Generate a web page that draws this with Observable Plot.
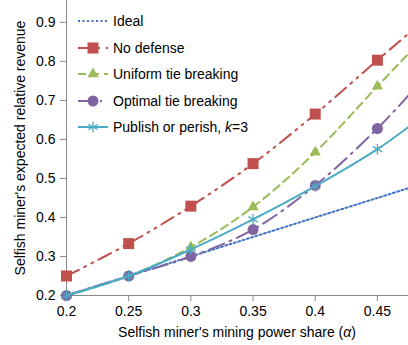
<!DOCTYPE html>
<html>
<head>
<meta charset="utf-8">
<script src="https://cdn.jsdelivr.net/npm/d3@7"></script>
<script src="https://cdn.jsdelivr.net/npm/@observablehq/plot@0.6"></script>
<style>
  body { margin: 0; background: #fff; }
  #wrap { position: relative; width: 408px; font-family: "Liberation Sans", Arial, sans-serif; color: #000; }
  #xlabel { width: 342px; padding-left: 66px; text-align: center; font-size: 14px; line-height: 20px; height: 23px; }
  #legend { position: absolute; left: 77px; top: 8px; font-size: 14px; }
  .row { display: flex; align-items: center; height: 26.5px; }
  .row svg { margin-right: 2px; }
</style>
</head>
<body>
<div id="wrap"></div>
<script>
// ---- data ----
const alpha = [0.2, 0.25, 0.3, 0.35, 0.4, 0.45, 0.475]; // last value: where lines leave the plot
const ideal      = [0.2, 0.25, 0.3, 0.35, 0.4, 0.45, 0.475];
const noDefense  = [0.25, 0.333, 0.429, 0.538, 0.665, 0.803, 0.871];
const uniformTie = [0.2, 0.25, 0.324, 0.427, 0.567, 0.736, 0.82];
const optimalTie = [0.2, 0.25, 0.30, 0.369, 0.482, 0.628, 0.713];
const publish    = [0.2, 0.25, 0.318, 0.395, 0.48, 0.575, 0.632];
const markerMaxAlpha = 0.45;

const seriesNames = ["Ideal", "No defense", "Uniform tie breaking", "Optimal tie breaking", "Publish or perish, k=3"];
const seriesValues = [ideal, noDefense, uniformTie, optimalTie, publish];
const seriesColors = ["#4472C4", "#C0504D", "#9BBB59", "#8064A2", "#4BACC6"];
const seriesDash = ["2,2.5", "14,6,2,6,2,6", "8,5", "16,6,2,6", null];
const seriesSymbol = [null, "square", "triangle", "circle", "asterisk"];
const seriesR = [0, 6.2, 4.2, 5.5, 5.2];

const xTicks = [0.2, 0.25, 0.3, 0.35, 0.4, 0.45];
const yTicks = [0.2, 0.3, 0.4, 0.5, 0.6, 0.7, 0.8, 0.9];
const xTitle = "Selfish miner's mining power share (";
const yTitle = "Selfish miner's expected relative revenue";

// ---- build table ----
const rows = [];
seriesNames.forEach((s, i) => seriesValues[i].forEach((v, j) => rows.push({series: s, idx: i, x: alpha[j], y: v})));

const axisCol = "#898989";
const marks = [
  Plot.ruleY([0.2], {stroke: axisCol, strokeWidth: 1}),
  Plot.ruleX([0.2], {stroke: axisCol, strokeWidth: 1}),
  Plot.axisX({ticks: xTicks, tickFormat: d => String(+d.toFixed(2)), tickSize: 6, tickPadding: 5, stroke: axisCol, fill: "#000", label: null, fontSize: 14}),
  Plot.axisY({ticks: yTicks, tickFormat: d => String(+d.toFixed(1)), tickSize: 6, tickPadding: 5, stroke: axisCol, fill: "#000", label: null, fontSize: 14}),
  Plot.text([yTitle], {frameAnchor: "left", textAnchor: "middle", rotate: -90, dx: -46, fontSize: 14, fill: "#000"})
];
seriesNames.forEach((s, i) => {
  const d = rows.filter(r => r.idx === i);
  marks.push(Plot.line(d, {x: "x", y: "y", stroke: seriesColors[i], strokeWidth: 2, strokeDasharray: seriesDash[i] || undefined, curve: "catmull-rom"}));
  if (seriesSymbol[i]) {
    const pts = d.filter(r => r.x <= markerMaxAlpha + 1e-9);
    if (seriesSymbol[i] === "asterisk") {
      marks.push(Plot.dot(pts, {x: "x", y: "y", symbol: "asterisk", r: seriesR[i], stroke: seriesColors[i], strokeWidth: 1.3, fill: "none"}));
    } else {
      marks.push(Plot.dot(pts, {x: "x", y: "y", symbol: seriesSymbol[i], r: seriesR[i], fill: seriesColors[i], stroke: "none"}));
    }
  }
});

const chart = Plot.plot({
  width: 408, height: 322,
  marginLeft: 66, marginRight: 0, marginTop: 0, marginBottom: 27,
  style: {fontFamily: '"Liberation Sans", Arial, sans-serif', fontSize: "14px", color: "#000", background: "#fff", overflow: "visible"},
  x: {domain: [0.2, 0.475]},
  y: {domain: [0.2, 0.956]},
  marks
});

const wrap = document.getElementById("wrap");
wrap.appendChild(chart);

// x title with italic alpha
const xl = document.createElement("div");
xl.id = "xlabel";
xl.innerHTML = xTitle + "<i>α</i>)";
wrap.appendChild(xl);

// legend overlay
const lg = document.createElement("div");
lg.id = "legend";
seriesNames.forEach((s, i) => {
  const row = document.createElement("div");
  row.className = "row";
  const svg = d3.create("svg").attr("width", 34).attr("height", 14);
  svg.append("line").attr("x1", 1).attr("x2", 31).attr("y1", 7).attr("y2", 7)
    .attr("stroke", seriesColors[i]).attr("stroke-width", 2)
    .attr("stroke-dasharray", seriesDash[i] || null);
  if (seriesSymbol[i]) {
    const typ = {square: d3.symbolSquare, triangle: d3.symbolTriangle, circle: d3.symbolCircle, asterisk: d3.symbolAsterisk}[seriesSymbol[i]];
    const p = svg.append("path").attr("transform", "translate(16,7)")
      .attr("d", d3.symbol(typ, Math.PI * seriesR[i] * seriesR[i])());
    if (seriesSymbol[i] === "asterisk") p.attr("fill", "none").attr("stroke", seriesColors[i]).attr("stroke-width", 1.3);
    else p.attr("fill", seriesColors[i]);
  }
  row.appendChild(svg.node());
  const t = document.createElement("span");
  if (s.includes("k=")) {
    const [a, b] = s.split("k");
    t.innerHTML = a + "<i>k</i>" + b;
  } else t.textContent = s;
  row.appendChild(t);
  lg.appendChild(row);
});
wrap.appendChild(lg);
</script>
</body>
</html>
